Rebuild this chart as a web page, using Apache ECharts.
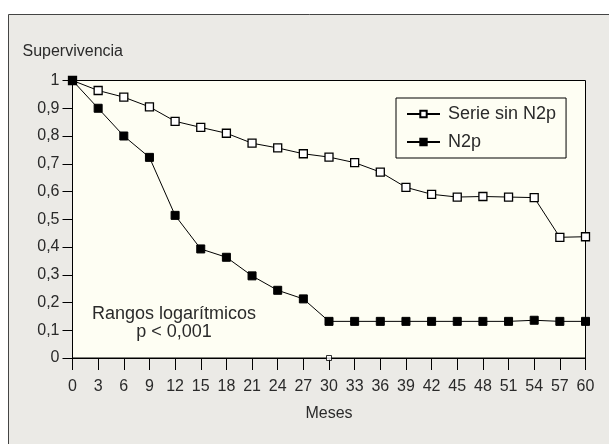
<!DOCTYPE html>
<html>
<head>
<meta charset="utf-8">
<script src="https://cdn.jsdelivr.net/npm/echarts@6/dist/echarts.min.js"></script>
<style>
  html, body { margin: 0; padding: 0; background: #fff; }
  #mainChart { width: 609px; height: 444px; }
</style>
</head>
<body>
<div id="mainChart"></div>
<script>
// meses (eje x)
var meses = [0, 3, 6, 9, 12, 15, 18, 21, 24, 27, 30, 33, 36, 39, 42, 45, 48, 51, 54, 57, 60];
// Serie sin N2p
var serieSinN2p = [1, 0.964, 0.94, 0.905, 0.853, 0.831, 0.81, 0.774, 0.757, 0.736, 0.724, 0.704, 0.67, 0.615, 0.59, 0.58, 0.582, 0.58, 0.578, 0.435, 0.437];
// N2p
var serieN2p = [1, 0.9, 0.8, 0.723, 0.514, 0.393, 0.363, 0.296, 0.244, 0.213, 0.132, 0.132, 0.132, 0.132, 0.132, 0.132, 0.132, 0.132, 0.136, 0.132, 0.132];
// punto suelto en el eje
var puntoSuelto = [[30, 0]];

var nombres = ['Serie sin N2p', 'N2p'];

function pares(vals) {
  return meses.map(function (m, i) { return [m, vals[i]]; });
}

var fuente = 'Liberation Sans, Arial, sans-serif';
var gris = '#2a2a2a';
var myChart = echarts.init(document.getElementById('mainChart'));

var option = {
  backgroundColor: '#fff',
  animation: false,
  textStyle: { fontFamily: fuente },
  graphic: [
    {
      type: 'rect', z: -10, silent: true,
      shape: { x: 8.5, y: 14.5, width: 640, height: 460 },
      style: { fill: '#ebeae6', stroke: '#444', lineWidth: 1 }
    },
    {
      type: 'text', x: 174, y: 314, z: 10,
      style: { text: 'Rangos logarítmicos', font: '18px ' + fuente, fill: gris, align: 'center', verticalAlign: 'middle' }
    },
    {
      type: 'text', x: 174, y: 332, z: 10,
      style: { text: 'p < 0,001', font: '18px ' + fuente, fill: gris, align: 'center', verticalAlign: 'middle' }
    }
  ],
  grid: {
    left: 72.5, right: 23.5, top: 80.5, bottom: 86,
    show: true, backgroundColor: '#fefef3', borderColor: '#000', borderWidth: 1
  },
  legend: {
    data: nombres,
    orient: 'vertical',
    left: 396, top: 98,
    width: 173,
    padding: [7, 10, 7, 10],
    itemGap: 10,
    itemWidth: 33, itemHeight: 8,
    borderColor: '#000', borderWidth: 1,
    backgroundColor: '#fefef3',
    textStyle: { fontSize: 18, color: gris, fontFamily: fuente, padding: [0, 0, 0, 3] }
  },
  xAxis: {
    type: 'value',
    min: 0, max: 60, interval: 3,
    name: 'Meses',
    nameLocation: 'middle',
    nameGap: 48,
    nameTextStyle: { fontSize: 16, color: gris },
    splitLine: { show: false },
    axisLine: { lineStyle: { color: '#000', width: 1 } },
    axisTick: { length: 12, lineStyle: { color: '#000' } },
    axisLabel: { margin: 21, fontSize: 16, color: gris }
  },
  yAxis: {
    type: 'value',
    min: 0, max: 1, interval: 0.1,
    name: 'Supervivencia',
    nameLocation: 'end',
    nameGap: 21,
    nameTextStyle: { fontSize: 16, color: gris, align: 'left', padding: [0, 0, 0, -50] },
    splitLine: { show: false },
    axisLine: { show: true, lineStyle: { color: '#000', width: 1 } },
    axisTick: { show: true, length: 10, lineStyle: { color: '#000' } },
    axisLabel: {
      margin: 13, fontSize: 16, color: gris,
      formatter: function (v) {
        return Number.isInteger(v) ? String(v) : v.toFixed(1).replace('.', ',');
      }
    }
  },
  series: [
    {
      name: nombres[0],
      type: 'line',
      data: pares(serieSinN2p),
      symbol: 'rect', symbolSize: 8,
      lineStyle: { color: '#000', width: 1 },
      itemStyle: { color: '#fff', borderColor: '#000', borderWidth: 1.3 },
      z: 3
    },
    {
      name: nombres[1],
      type: 'line',
      data: pares(serieN2p),
      symbol: 'rect', symbolSize: 8,
      lineStyle: { color: '#000', width: 1 },
      itemStyle: { color: '#000', borderColor: '#000', borderWidth: 1 },
      z: 4
    },
    {
      name: 'punto',
      type: 'scatter',
      data: puntoSuelto,
      symbol: 'rect', symbolSize: 5,
      itemStyle: { color: '#fff', borderColor: '#000', borderWidth: 1 },
      z: 5
    }
  ]
};

myChart.setOption(option);
</script>
</body>
</html>
